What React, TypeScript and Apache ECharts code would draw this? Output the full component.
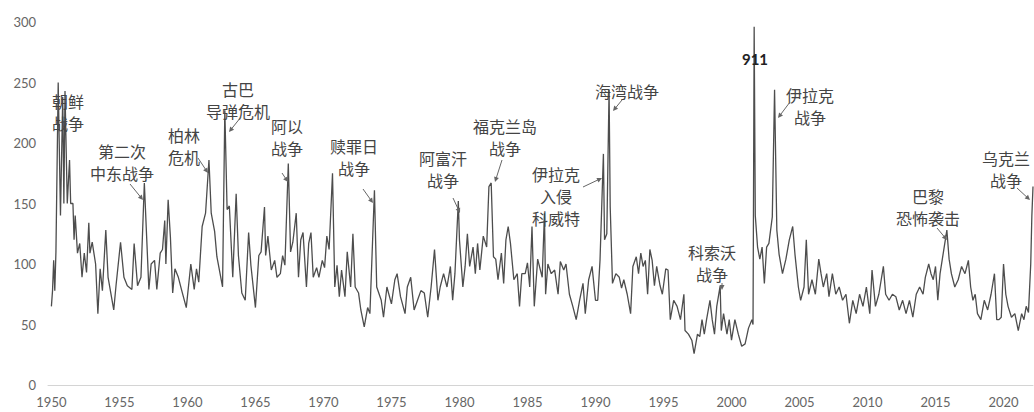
import React, { useEffect, useRef } from "react";
import * as echarts from "echarts";

// Monthly geopolitical risk readings (month, index value)
const months: string[] = [
  "1950-01","1950-02","1950-03","1950-04","1950-05","1950-07","1950-09","1950-11","1950-12",
  "1951-01","1951-03","1951-05","1951-06","1951-08","1951-09","1951-10","1951-12",
  "1952-02","1952-04","1952-06","1952-08","1952-10","1952-11",
  "1953-01","1953-04","1953-06","1953-08","1953-10",
  "1954-01","1954-03","1954-08","1954-10",
  "1955-02","1955-05","1955-08","1955-12",
  "1956-02","1956-05","1956-08","1956-11",
  "1957-01","1957-03","1957-05","1957-08","1957-10",
  "1958-01","1958-03","1958-05","1958-06","1958-08","1958-10","1958-12",
  "1959-02","1959-05","1959-08","1959-12",
  "1960-04","1960-07","1960-09","1960-11",
  "1961-02","1961-05","1961-08","1961-10",
  "1962-01","1962-03","1962-08","1962-10","1962-12",
  "1963-02","1963-05","1963-08","1963-10",
  "1964-01","1964-04","1964-07","1964-09",
  "1965-01","1965-04","1965-06","1965-09","1965-10","1965-12",
  "1966-03","1966-06","1966-08","1966-11",
  "1967-01","1967-03","1967-06","1967-08","1967-10",
  "1968-01","1968-03","1968-05","1968-07","1968-10","1968-12",
  "1969-02","1969-04","1969-07","1969-09","1969-12",
  "1970-02","1970-04","1970-06","1970-09","1970-11",
  "1971-01","1971-03","1971-05","1971-08","1971-10",
  "1972-01","1972-03","1972-05","1972-08","1972-10",
  "1973-01","1973-04","1973-06","1973-10","1973-12",
  "1974-04","1974-06","1974-09",
  "1975-01","1975-04","1975-06","1975-09",
  "1976-01","1976-03","1976-06","1976-09","1976-12",
  "1977-03","1977-06","1977-09","1977-12",
  "1978-03","1978-06","1978-08","1978-11",
  "1979-02","1979-05","1979-07","1979-09","1979-12",
  "1980-01","1980-04","1980-06","1980-08","1980-10",
  "1981-01","1981-03","1981-05","1981-07","1981-10",
  "1982-01","1982-03","1982-05","1982-07","1982-09","1982-11",
  "1983-02","1983-04","1983-06","1983-08","1983-10",
  "1984-01","1984-04","1984-06","1984-08","1984-11",
  "1985-01","1985-03","1985-05","1985-07","1985-10",
  "1986-02","1986-04","1986-05","1986-07","1986-10",
  "1987-01","1987-04","1987-06","1987-09","1987-11",
  "1988-02","1988-05","1988-08","1988-11",
  "1989-02","1989-04","1989-07","1989-10",
  "1990-01","1990-03","1990-05","1990-08","1990-09","1990-11",
  "1991-01","1991-02","1991-04","1991-07","1991-10","1991-12",
  "1992-02","1992-05","1992-08","1992-10",
  "1993-01","1993-03","1993-05","1993-07","1993-09","1993-11",
  "1994-01","1994-03","1994-05","1994-07","1994-10","1994-12",
  "1995-03","1995-05","1995-07","1995-10",
  "1996-01","1996-04","1996-07","1996-08","1996-11",
  "1997-02","1997-04","1997-07","1997-09","1997-11",
  "1998-01","1998-03","1998-06","1998-08","1998-10","1998-12",
  "1999-03","1999-04","1999-06","1999-09","1999-11",
  "2000-01","2000-04","2000-07","2000-10",
  "2001-01","2001-04","2001-07","2001-08","2001-09","2001-10","2001-12",
  "2002-02","2002-04","2002-06","2002-08","2002-10",
  "2003-01","2003-03","2003-05","2003-07","2003-10",
  "2004-01","2004-04","2004-07","2004-09","2004-12",
  "2005-02","2005-05","2005-07","2005-09","2005-12",
  "2006-03","2006-06","2006-08","2006-10",
  "2007-01","2007-03","2007-06","2007-09","2007-12",
  "2008-03","2008-06","2008-09","2008-12",
  "2009-03","2009-06","2009-09","2009-12",
  "2010-03","2010-05","2010-08","2010-11",
  "2011-03","2011-05","2011-08","2011-11",
  "2012-02","2012-05","2012-08","2012-11",
  "2013-02","2013-05","2013-08","2013-11",
  "2014-02","2014-04","2014-07","2014-09","2014-11",
  "2015-01","2015-03","2015-05","2015-07","2015-11",
  "2016-01","2016-03","2016-06","2016-09","2016-12",
  "2017-03","2017-06","2017-08","2017-10","2017-12",
  "2018-02","2018-05","2018-08","2018-11",
  "2019-02","2019-05","2019-07","2019-09","2019-11",
  "2020-01","2020-03","2020-05","2020-08","2020-11",
  "2021-02","2021-05","2021-07","2021-09","2021-11",
  "2022-01","2022-02","2022-03",
];

const gprValues: number[] = [
  65, 78, 103, 78, 110, 250, 140, 238, 150,
  243, 150, 186, 150, 150, 120, 140, 109,
  117, 89, 109, 93, 134, 109,
  118, 100, 59, 96, 78,
  128, 89, 62, 82,
  118, 89, 82, 79,
  117, 82, 89, 167,
  123, 79, 100, 103, 79,
  109, 112, 136, 100, 153, 122, 76,
  96, 89, 78, 64,
  100, 79, 96, 85,
  131, 142, 186, 142,
  127, 106, 81, 227, 145,
  148, 89, 158, 107,
  76, 70, 126, 99,
  64, 107, 110, 147, 107, 123,
  95, 103, 89, 92,
  107, 99, 183, 110, 118,
  142, 89, 120, 126, 81, 117,
  126, 89, 97, 89, 103,
  97, 123, 112, 175, 81,
  99, 73, 95, 73, 110,
  81, 125, 81, 76, 62,
  48, 64, 59, 161, 81,
  70, 56, 81,
  67, 87, 92, 73,
  59, 81, 89, 62, 70,
  78, 76, 56, 81,
  112, 70, 81, 92,
  81, 98, 70, 92, 152,
  120, 81, 98, 125, 98,
  114, 92, 117, 95, 123,
  114, 164, 167, 106, 104, 87,
  109, 84, 120, 131, 117,
  87, 92, 65, 92, 92,
  101, 81, 131, 65, 104,
  89, 142, 75, 100, 92,
  95, 75, 102, 95, 100,
  75, 65, 54, 70,
  84, 59, 87, 98,
  70, 70, 103, 191, 120, 125,
  244, 147, 84, 92, 89, 80,
  87, 75, 59, 98,
  106, 92, 109, 98, 103, 75,
  112, 103, 82, 98, 82, 75,
  96, 95, 54, 70,
  65, 54, 75, 45, 42,
  37, 26, 42, 40, 54,
  42, 54, 70, 54, 42, 65,
  82, 45, 59, 42, 54,
  37, 54, 42, 32,
  34, 47, 54, 50, 296, 140, 114,
  104, 114, 84, 114, 117,
  139, 244, 128, 108, 92,
  104, 120, 131, 108, 81,
  70, 81, 120, 75, 87,
  75, 104, 92, 81,
  92, 73, 92, 75, 81,
  70, 75, 51, 70,
  59, 75, 65, 81,
  59, 95, 65, 75,
  98, 75, 70, 75,
  73, 62, 70, 59,
  70, 56, 75, 81,
  75, 89, 100, 92, 87,
  98, 70, 92, 104, 128,
  104, 92, 81, 87, 98,
  92, 103, 81, 70, 75,
  59, 54, 70, 62,
  75, 92, 54, 54, 56,
  100, 75, 65, 56, 59,
  45, 59, 54, 65, 60,
  100, 140, 164,
];

const yearTicks: number[] = [1950, 1955, 1960, 1965, 1970, 1975, 1980, 1985, 1990, 1995, 2000, 2005, 2010, 2015, 2020];

type Note = {
  lines: string[];
  x: number;
  y: number;
  arrow?: [number, number, number, number];
  bold?: boolean;
};

const LINE_H = 22;

const notes: Note[] = [
  { lines: ["朝鲜", "战争"], x: 68, y: 100.5 },
  { lines: ["第二次", "中东战争"], x: 122, y: 151 },
  { lines: ["柏林", "危机"], x: 184, y: 134.5, arrow: [198, 158, 208, 173] },
  { lines: ["古巴", "导弹危机"], x: 238, y: 89, arrow: [241, 117, 229, 132] },
  { lines: ["阿以", "战争"], x: 287, y: 125.5, arrow: [282, 173, 288, 182] },
  { lines: ["赎罪日", "战争"], x: 354, y: 146, arrow: [363, 189, 373, 203] },
  { lines: ["阿富汗", "战争"], x: 443, y: 157.5, arrow: [453, 198, 460, 213] },
  { lines: ["福克兰岛", "战争"], x: 505, y: 126, arrow: [502, 160, 495, 182] },
  { lines: ["伊拉克", "入侵", "科威特"], x: 556, y: 174, arrow: [583, 187, 602, 178] },
  { lines: ["海湾战争"], x: 627, y: 91, arrow: [622, 100, 613, 111] },
  { lines: ["911"], x: 755, y: 59, bold: true },
  { lines: ["伊拉克", "战争"], x: 810, y: 94.5, arrow: [790, 102, 778, 118] },
  { lines: ["科索沃", "战争"], x: 712, y: 252, arrow: [722, 283, 722, 290] },
  { lines: ["巴黎", "恐怖袭击"], x: 928, y: 196, arrow: [937, 228, 947, 240] },
  { lines: ["乌克兰", "战争"], x: 1006, y: 158, arrow: [1017, 188, 1030, 200] },
];

const SECOND_MIDEAST_ARROW: [number, number, number, number] = [130, 184, 143, 200];

export default function App() {
  const ref = useRef<HTMLDivElement>(null);

  useEffect(() => {
    if (!ref.current) return;
    const chart = echarts.init(ref.current, null, { renderer: "svg" });

    const data = months.map((m, i) => {
      const [yy, mm] = m.split("-").map(Number);
      return [yy + (mm - 1) / 12, gprValues[i]];
    });

    const graphics: any[] = [];
    const addArrow = (a: [number, number, number, number]) => {
      const [x1, y1, x2, y2] = a;
      const dx = x2 - x1;
      const dy = y2 - y1;
      const len = Math.sqrt(dx * dx + dy * dy) || 1;
      const ux = dx / len;
      const uy = dy / len;
      const hl = 5;
      const hw = 2.5;
      graphics.push({
        type: "line",
        z: 10,
        shape: { x1, y1, x2: x2 - ux * 2, y2: y2 - uy * 2 },
        style: { stroke: "#666", lineWidth: 1 },
      });
      graphics.push({
        type: "polygon",
        z: 10,
        shape: {
          points: [
            [x2, y2],
            [x2 - ux * hl - uy * hw, y2 - uy * hl + ux * hw],
            [x2 - ux * hl + uy * hw, y2 - uy * hl - ux * hw],
          ],
        },
        style: { fill: "#666" },
      });
    };

    notes.forEach((n) => {
      graphics.push({
        type: "text",
        x: n.x,
        y: n.y - LINE_H / 2,
        z: 10,
        style: {
          text: n.lines.join("\n"),
          fill: n.bold ? "#222" : "#444",
          fontSize: n.bold ? 15 : 16,
          lineHeight: LINE_H,
          fontWeight: n.bold ? "bold" : "normal",
          fontFamily: n.bold ? "Lato, 'Open Sans', sans-serif" : "'Noto Sans CJK SC', sans-serif",
          align: "center",
          verticalAlign: "top",
          textAlign: "center",
          textVerticalAlign: "top",
        },
      });
      if (n.arrow) addArrow(n.arrow);
    });
    addArrow(SECOND_MIDEAST_ARROW);

    chart.setOption({
      animation: false,
      backgroundColor: "#ffffff",
      grid: { left: 48, right: 1, top: 22, bottom: 27, containLabel: false },
      xAxis: {
        type: "value",
        min: 1949.75,
        max: 2022.1667,
        axisLine: { show: true, lineStyle: { color: "#d4d4d4", width: 1 } },
        axisTick: { show: false },
        splitLine: { show: false },
        axisLabel: {
          customValues: yearTicks,
          color: "#666",
          fontSize: 13,
          fontFamily: "Lato, 'Open Sans', sans-serif",
          margin: 10,
          formatter: (v: number) => String(Math.round(v)),
        },
      },
      yAxis: {
        type: "value",
        min: 0,
        max: 300,
        interval: 50,
        axisLine: { show: false },
        axisTick: { show: false },
        splitLine: { show: false },
        axisLabel: {
          color: "#666",
          fontSize: 13,
          fontFamily: "Lato, 'Open Sans', sans-serif",
          margin: 12,
        },
      },
      series: [
        {
          type: "line",
          data,
          symbol: "none",
          showSymbol: false,
          lineStyle: { color: "#4d4d4d", width: 1.3 },
          z: 2,
        },
      ],
      graphic: graphics,
    });

    return () => chart.dispose();
  }, []);

  return (
    <div
      ref={ref}
      style={{ position: "fixed", left: 0, top: 0, width: 1034, height: 412, background: "#fff" }}
    />
  );
}
